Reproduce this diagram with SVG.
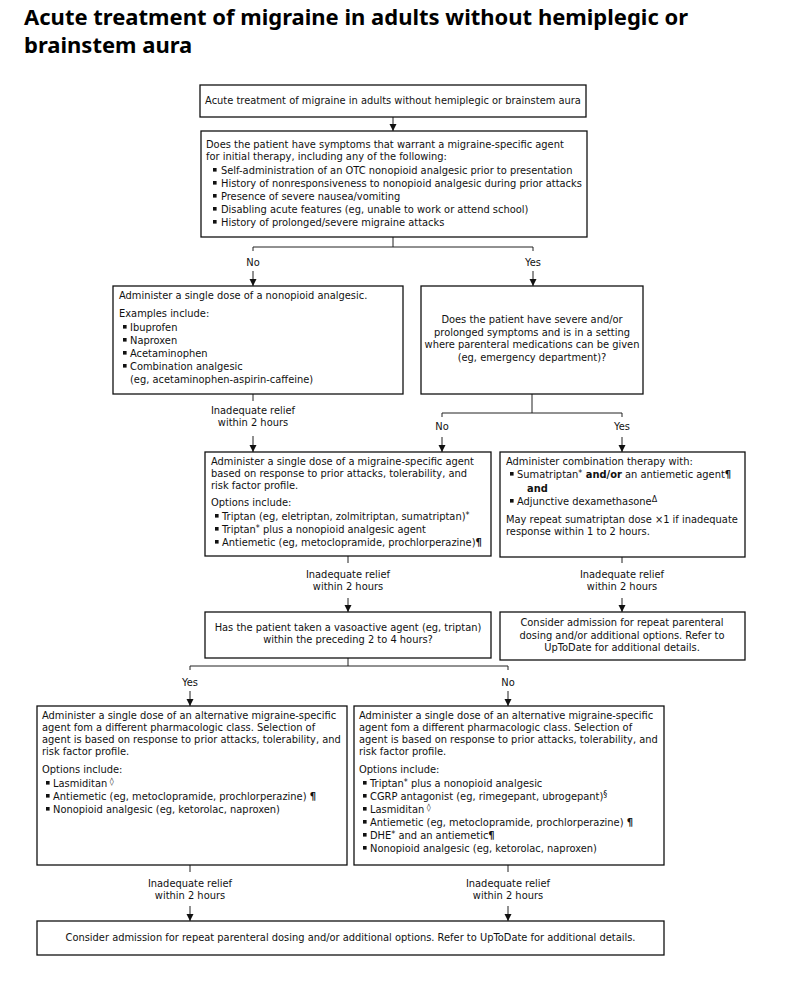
<svg xmlns="http://www.w3.org/2000/svg" width="800" height="1000" viewBox="0 0 800 1000">
<defs>
<marker id="arr" markerUnits="userSpaceOnUse" markerWidth="7" markerHeight="8" refX="7" refY="4" orient="auto">
<path d="M0,0.5 L7,4 L0,7.5 z" fill="#111"/>
</marker>
<rect id="bl" width="3.6" height="3.6" fill="#111"/>
</defs>
<style>
.title{font-family:"Noto Sans","Open Sans","DejaVu Sans",sans-serif;font-weight:bold;font-size:22px;fill:#000}
.t{font-family:"DejaVu Sans",Verdana,sans-serif;font-size:9.9px;fill:#111}
.c{text-anchor:middle}
.b{font-weight:bold}
.box{fill:#fff;stroke:#111;stroke-width:1.3}
.ln{fill:none;stroke:#222;stroke-width:1}
.ar{fill:none;stroke:#222;stroke-width:1;marker-end:url(#arr)}
.sup{font-size:8px}
</style>
<rect width="800" height="1000" fill="#fff"/>
<g id="title">
<text class="title" x="24" y="25">Acute treatment of migraine in adults without hemiplegic or</text>
<text class="title" x="24" y="53">brainstem aura</text>
</g>

<g id="connectors">
<path class="ar" d="M393,117 V131"/>
<path class="ln" d="M393,237 V247 M253,247 H533 M253,247 V251 M533,247 V251"/>
<path class="ar" d="M253,271 V286"/>
<path class="ar" d="M533,271 V286"/>
<path class="ln" d="M253,394 V401"/>
<path class="ar" d="M253,436 V452"/>
<path class="ln" d="M532,394 V413 M442,413 H622 M442,413 V417 M622,413 V417"/>
<path class="ar" d="M442,437 V452"/>
<path class="ar" d="M622,437 V452"/>
<path class="ln" d="M348,556 V563"/>
<path class="ar" d="M348,598 V612"/>
<path class="ln" d="M622,557 V563"/>
<path class="ar" d="M622,598 V612"/>
<path class="ln" d="M348,658 V666 M190,666 H508 M190,666 V670 M508,666 V670"/>
<path class="ar" d="M190,691 V706"/>
<path class="ar" d="M508,691 V706"/>
<path class="ln" d="M190,865 V872 M508,865 V872"/>
<path class="ar" d="M190,906 V921"/>
<path class="ar" d="M508,906 V921"/>
<text class="t c" x="253" y="266">No</text>
<text class="t c" x="533" y="266">Yes</text>
<text class="t c" x="253" y="414">Inadequate relief</text>
<text class="t c" x="253" y="426">within 2 hours</text>
<text class="t c" x="442" y="430">No</text>
<text class="t c" x="622" y="430">Yes</text>
<text class="t c" x="348" y="578">Inadequate relief</text>
<text class="t c" x="348" y="590">within 2 hours</text>
<text class="t c" x="622" y="578">Inadequate relief</text>
<text class="t c" x="622" y="590">within 2 hours</text>
<text class="t c" x="190" y="686">Yes</text>
<text class="t c" x="508" y="686">No</text>
<text class="t c" x="190" y="887">Inadequate relief</text>
<text class="t c" x="190" y="899">within 2 hours</text>
<text class="t c" x="508" y="887">Inadequate relief</text>
<text class="t c" x="508" y="899">within 2 hours</text>
</g>

<g id="n1">
<rect class="box" x="200" y="85" width="386" height="32"/>
<text class="t c" x="393" y="104">Acute treatment of migraine in adults without hemiplegic or brainstem aura</text>
</g>

<g id="n2">
<rect class="box" x="201" y="131" width="386" height="106"/>
<text class="t" x="206" y="148">Does the patient have symptoms that warrant a migraine-specific agent</text>
<text class="t" x="206" y="160">for initial therapy, including any of the following:</text>
<use href="#bl" x="213" y="168"/><text class="t" x="221" y="174">Self-administration of an OTC nonopioid analgesic prior to presentation</text>
<use href="#bl" x="213" y="181"/><text class="t" x="221" y="187">History of nonresponsiveness to nonopioid analgesic during prior attacks</text>
<use href="#bl" x="213" y="194"/><text class="t" x="221" y="200">Presence of severe nausea/vomiting</text>
<use href="#bl" x="213" y="207"/><text class="t" x="221" y="213">Disabling acute features (eg, unable to work or attend school)</text>
<use href="#bl" x="213" y="220"/><text class="t" x="221" y="226">History of prolonged/severe migraine attacks</text>
</g>

<g id="n3">
<rect class="box" x="113" y="286" width="290" height="108"/>
<text class="t" x="119" y="299">Administer a single dose of a nonopioid analgesic.</text>
<text class="t" x="119" y="317">Examples include:</text>
<use href="#bl" x="123" y="325"/><text class="t" x="130" y="331">Ibuprofen</text>
<use href="#bl" x="123" y="338"/><text class="t" x="130" y="344">Naproxen</text>
<use href="#bl" x="123" y="351"/><text class="t" x="130" y="357">Acetaminophen</text>
<use href="#bl" x="123" y="364"/><text class="t" x="130" y="370">Combination analgesic</text>
<text class="t" x="130" y="383">(eg, acetaminophen-aspirin-caffeine)</text>
</g>

<g id="n4">
<rect class="box" x="421" y="286" width="222" height="108"/>
<text class="t c" x="532" y="323">Does the patient have severe and/or</text>
<text class="t c" x="532" y="335.5">prolonged symptoms and is in a setting</text>
<text class="t c" x="532" y="348">where parenteral medications can be given</text>
<text class="t c" x="532" y="360.5">(eg, emergency department)?</text>
</g>

<g id="n5">
<rect class="box" x="205" y="452" width="286" height="104"/>
<text class="t" x="211" y="465">Administer a single dose of a migraine-specific agent</text>
<text class="t" x="211" y="477">based on response to prior attacks, tolerability, and</text>
<text class="t" x="211" y="489">risk factor profile.</text>
<text class="t" x="211" y="506">Options include:</text>
<use href="#bl" x="215" y="514"/><text class="t" x="222" y="520">Triptan (eg, eletriptan, zolmitriptan, sumatriptan)<tspan class="sup" dy="-2">*</tspan></text>
<use href="#bl" x="215" y="527"/><text class="t" x="222" y="533">Triptan<tspan class="sup" dy="-2">*</tspan><tspan dy="2"> plus a nonopioid analgesic agent</tspan></text>
<use href="#bl" x="215" y="540"/><text class="t" x="222" y="546">Antiemetic (eg, metoclopramide, prochlorperazine)<tspan class="b">¶</tspan></text>
</g>

<g id="n6">
<rect class="box" x="500" y="452" width="245" height="105"/>
<text class="t" x="506" y="465">Administer combination therapy with:</text>
<use href="#bl" x="510" y="472"/><text class="t" x="517" y="478">Sumatriptan<tspan class="sup" dy="-2">*</tspan><tspan class="b" dy="2"> and/or</tspan> an antiemetic agent<tspan class="b">¶</tspan></text>
<text class="t b" x="527" y="492">and</text>
<use href="#bl" x="510" y="499"/><text class="t" x="517" y="505">Adjunctive dexamethasone<tspan class="sup" dy="-3">Δ</tspan></text>
<text class="t" x="506" y="523">May repeat sumatriptan dose ×1 if inadequate</text>
<text class="t" x="506" y="535">response within 1 to 2 hours.</text>
</g>

<g id="n7">
<rect class="box" x="205" y="612" width="286" height="46"/>
<text class="t c" x="348" y="631">Has the patient taken a vasoactive agent (eg, triptan)</text>
<text class="t c" x="348" y="643">within the preceding 2 to 4 hours?</text>
</g>

<g id="n8">
<rect class="box" x="500" y="612" width="245" height="48"/>
<text class="t c" x="622" y="626">Consider admission for repeat parenteral</text>
<text class="t c" x="622" y="638.5">dosing and/or additional options. Refer to</text>
<text class="t c" x="622" y="651">UpToDate for additional details.</text>
</g>

<g id="n9">
<rect class="box" x="37" y="706" width="310" height="159"/>
<text class="t" x="42" y="719">Administer a single dose of an alternative migraine-specific</text>
<text class="t" x="42" y="731">agent fom a different pharmacologic class. Selection of</text>
<text class="t" x="42" y="743">agent is based on response to prior attacks, tolerability, and</text>
<text class="t" x="42" y="755">risk factor profile.</text>
<text class="t" x="42" y="773">Options include:</text>
<use href="#bl" x="46" y="781"/><text class="t" x="53" y="787">Lasmiditan<tspan class="sup" dy="-3"> ◊</tspan></text>
<use href="#bl" x="46" y="794"/><text class="t" x="53" y="800">Antiemetic (eg, metoclopramide, prochlorperazine) <tspan class="b">¶</tspan></text>
<use href="#bl" x="46" y="807"/><text class="t" x="53" y="813">Nonopioid analgesic (eg, ketorolac, naproxen)</text>
</g>

<g id="n10">
<rect class="box" x="354" y="706" width="310" height="159"/>
<text class="t" x="359" y="719">Administer a single dose of an alternative migraine-specific</text>
<text class="t" x="359" y="731">agent fom a different pharmacologic class. Selection of</text>
<text class="t" x="359" y="743">agent is based on response to prior attacks, tolerability, and</text>
<text class="t" x="359" y="755">risk factor profile.</text>
<text class="t" x="359" y="773">Options include:</text>
<use href="#bl" x="363" y="781"/><text class="t" x="370" y="787">Triptan<tspan class="sup" dy="-2">*</tspan><tspan dy="2"> plus a nonopioid analgesic</tspan></text>
<use href="#bl" x="363" y="794"/><text class="t" x="370" y="800">CGRP antagonist (eg, rimegepant, ubrogepant)<tspan class="sup" dy="-3">§</tspan></text>
<use href="#bl" x="363" y="807"/><text class="t" x="370" y="813">Lasmiditan<tspan class="sup" dy="-3"> ◊</tspan></text>
<use href="#bl" x="363" y="820"/><text class="t" x="370" y="826">Antiemetic (eg, metoclopramide, prochlorperazine) <tspan class="b">¶</tspan></text>
<use href="#bl" x="363" y="833"/><text class="t" x="370" y="839">DHE<tspan class="sup" dy="-2">*</tspan><tspan dy="2"> and an antiemetic</tspan><tspan class="b">¶</tspan></text>
<use href="#bl" x="363" y="846"/><text class="t" x="370" y="852">Nonopioid analgesic (eg, ketorolac, naproxen)</text>
</g>

<g id="n11">
<rect class="box" x="37" y="921" width="627" height="34"/>
<text class="t c" x="350.5" y="941">Consider admission for repeat parenteral dosing and/or additional options. Refer to UpToDate for additional details.</text>
</g>
</svg>
